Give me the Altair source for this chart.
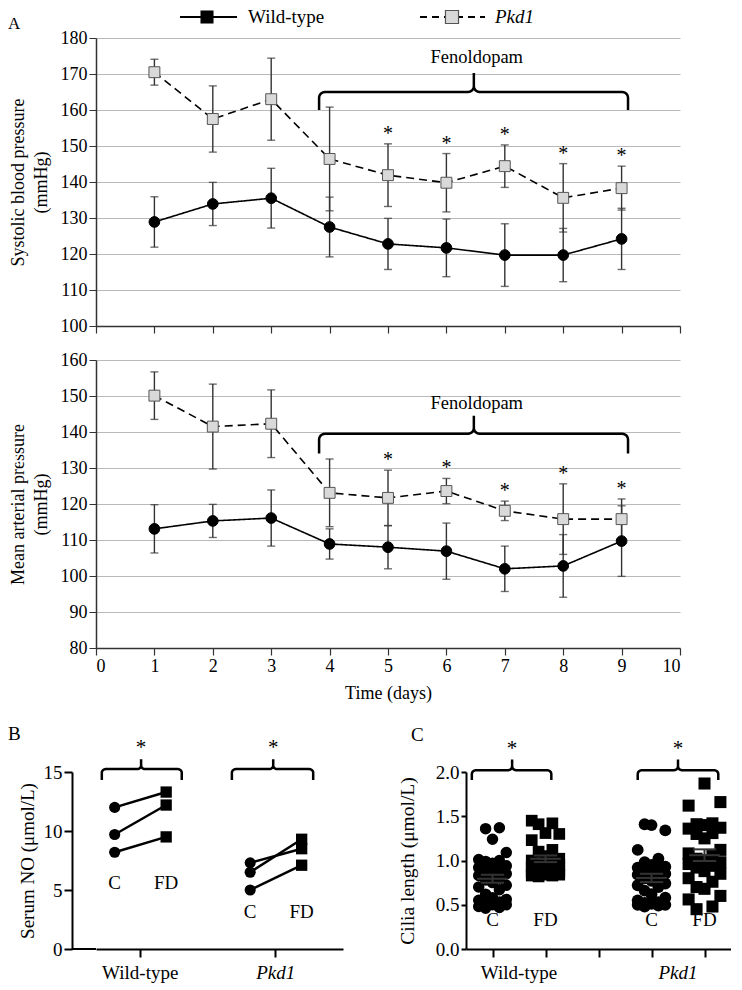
import math
import altair as alt
import pandas as pd

FONT = "Liberation Serif"
SER = ["Wild-type", "Pkd1"]

# ---------------- Panel A data ----------------
days = [1, 2, 3, 4, 5, 6, 7, 8, 9]
sbp_wt = [128.9, 133.9, 135.5, 127.5, 122.8, 121.7, 119.7, 119.7, 124.2]
sbp_wt_err = [7.0, 6.0, 8.3, 8.3, 7.1, 8.0, 8.7, 7.4, 8.5]
sbp_pkd = [170.5, 157.5, 163.0, 146.4, 141.9, 139.8, 144.4, 135.6, 138.3]
sbp_pkd_err = [3.6, 9.2, 11.4, 14.4, 8.7, 8.1, 5.9, 9.5, 6.1]
map_wt = [113.1, 115.3, 116.1, 108.9, 108.0, 106.9, 102.0, 102.8, 109.7]
map_wt_err = [6.7, 4.6, 7.8, 4.2, 6.0, 7.8, 6.3, 8.7, 9.8]
map_pkd = [150.1, 141.5, 142.3, 123.1, 121.7, 123.6, 118.1, 115.8, 115.8]
map_pkd_err = [6.6, 11.8, 9.4, 9.4, 7.7, 3.5, 2.7, 9.8, 5.6]
sig_days = [5, 6, 7, 8, 9]

# ---------------- Panel B data ----------------
no_groups = ["Wild-type", "Wild-type", "Wild-type", "Pkd1", "Pkd1", "Pkd1"]
no_c = [12.0, 9.7, 8.2, 7.3, 6.5, 5.0]
no_fd = [13.3, 12.2, 9.5, 8.5, 9.3, 7.1]

# ---------------- Panel C data ----------------
cil_wt_c = [1.37, 1.36, 1.24, 1.09, 1.01, 1.00, 0.99, 0.97, 0.94, 0.92, 0.90,
            0.88, 0.86, 0.85, 0.83, 0.80, 0.78, 0.75, 0.72, 0.70, 0.67, 0.62,
            0.58, 0.56, 0.55, 0.53, 0.52, 0.50, 0.50, 0.48, 0.47, 0.46]
cil_wt_fd = [1.45, 1.42, 1.41, 1.31, 1.30, 1.23, 1.12, 1.10, 1.05, 1.02, 1.00,
             0.99, 0.97, 0.96, 0.95, 0.93, 0.92, 0.90, 0.89, 0.88, 0.87, 0.86,
             0.85, 0.84, 0.84, 0.83, 0.83, 0.82]
cil_pkd_c = [1.41, 1.40, 1.34, 1.12, 1.02, 0.98, 0.95, 0.93, 0.92, 0.90, 0.88,
             0.86, 0.85, 0.84, 0.82, 0.80, 0.77, 0.74, 0.72, 0.70, 0.66, 0.62,
             0.58, 0.55, 0.53, 0.52, 0.51, 0.50, 0.50, 0.49, 0.48]
cil_pkd_fd = [1.87, 1.66, 1.62, 1.42, 1.41, 1.40, 1.37, 1.36, 1.31, 1.30, 1.25,
              1.12, 1.08, 1.05, 1.02, 1.00, 0.98, 0.96, 0.94, 0.92, 0.88, 0.85,
              0.80, 0.76, 0.70, 0.68, 0.60, 0.56, 0.48, 0.45]

one = pd.DataFrame({"k": [0]})


def brace_df(xname, yname, x0, x1, xm, level, drop, peak, rx, ry, n=6):
    pts = [(x0, level - drop)]
    cx, cy = x0 + rx, level - ry
    for i in range(n + 1):
        t = math.pi - (math.pi / 2) * i / n
        pts.append((cx + rx * math.cos(t), cy + ry * math.sin(t)))
    cx, cy = xm - rx, level + ry
    for i in range(n + 1):
        t = 1.5 * math.pi + (math.pi / 2) * i / n
        pts.append((cx + rx * math.cos(t), cy + ry * math.sin(t)))
    pts.append((xm, level + peak))
    cx, cy = xm + rx, level + ry
    for i in range(n + 1):
        t = math.pi + (math.pi / 2) * i / n
        pts.append((cx + rx * math.cos(t), cy + ry * math.sin(t)))
    cx, cy = x1 - rx, level - ry
    for i in range(n + 1):
        t = math.pi / 2 - (math.pi / 2) * i / n
        pts.append((cx + rx * math.cos(t), cy + ry * math.sin(t)))
    pts.append((x1, level - drop))
    return pd.DataFrame({xname: [p[0] for p in pts], yname: [p[1] for p in pts],
                         "ord": list(range(len(pts)))})


def panel_a(wt, wt_err, pkd, pkd_err, ydom, ytitle, bottom, br, fen_y, top):
    rows = []
    for s, vals, errs in ((SER[0], wt, wt_err), (SER[1], pkd, pkd_err)):
        for d, v, e in zip(days, vals, errs):
            rows.append({"day": d, "series": s, "value": v, "lo": v - e, "hi": v + e})
    df = pd.DataFrame(rows)
    xs = alt.Scale(domain=[0, 10], nice=False, zero=False)
    ys = alt.Scale(domain=ydom, nice=False, zero=False)
    xkw = dict(values=list(range(11)), labels=bottom, grid=False, tickSize=7,
               tickColor="#333", tickWidth=1.2, domainColor="#333", domainWidth=1.5,
               labelFont=FONT, labelFontSize=18, labelColor="black", labelPadding=2)
    if bottom:
        xkw.update(title="Time (days)", titleFont=FONT, titleFontSize=18,
                   titleFontWeight="normal", titleColor="black", titlePadding=9)
    else:
        xkw.update(title=None)
    xaxis = alt.Axis(**xkw)
    yaxis = alt.Axis(values=list(range(ydom[0], ydom[1] + 1, 10)), title=ytitle,
                     titleFont=FONT, titleFontSize=18, titleFontWeight="normal",
                     titleColor="black", titlePadding=10, titleLineHeight=23,
                     labelFont=FONT, labelFontSize=18, labelColor="black", labelPadding=2,
                     tickSize=7, tickColor="#333", domainColor="#333", domainWidth=1.5,
                     grid=True, gridColor="#b9b9b9", gridWidth=1)

    def X(f="day"):
        return alt.X(f"{f}:Q", scale=xs, axis=xaxis)

    def Y(f):
        return alt.Y(f"{f}:Q", scale=ys, axis=yaxis)

    base = alt.Chart(df)
    layers = [
        base.mark_rule(color="#333", strokeWidth=1.4).encode(x=X(), y=Y("lo"), y2="hi:Q"),
        base.mark_tick(color="#333", orient="horizontal", size=8, thickness=1.4).encode(x=X(), y=Y("lo")),
        base.mark_tick(color="#333", orient="horizontal", size=8, thickness=1.4).encode(x=X(), y=Y("hi")),
        base.mark_line(color="black", strokeWidth=1.6).encode(
            x=X(), y=Y("value"), detail="series:N",
            strokeDash=alt.StrokeDash("series:N", scale=alt.Scale(domain=SER, range=[[1, 0], [8, 5]]), legend=None)),
        base.mark_point(filled=True, opacity=1, strokeWidth=1).encode(
            x=X(), y=Y("value"),
            shape=alt.Shape("series:N", scale=alt.Scale(domain=SER, range=["circle", "square"]), legend=None),
            fill=alt.Fill("series:N", scale=alt.Scale(domain=SER, range=["#000000", "#d9d9d9"]), legend=None),
            stroke=alt.Stroke("series:N", scale=alt.Scale(domain=SER, range=["#000000", "#555555"]), legend=None),
            size=alt.Size("series:N", scale=alt.Scale(domain=SER, range=[115, 145]), legend=None)),
        base.transform_filter(alt.datum.series == "Pkd1")
            .transform_filter(alt.FieldOneOfPredicate(field="day", oneOf=sig_days))
            .mark_text(text="*", font=FONT, fontSize=20, baseline="alphabetic", dy=-4)
            .encode(x=X(), y=Y("hi")),
        alt.Chart(brace_df("day", "value", *br)).mark_line(color="black", strokeWidth=2.5).encode(
            x=X(), y=Y("value"), order="ord:Q"),
        alt.Chart(pd.DataFrame({"day": [br[2] + 0.05], "value": [fen_y], "t": ["Fenoldopam"]}))
            .mark_text(font=FONT, fontSize=18.5, baseline="middle").encode(x=X(), y=Y("value"), text="t:N"),
    ]
    if top:
        ly = -21
        layers += [
            alt.Chart(one).mark_rule(color="black", strokeWidth=1.8).encode(
                x=alt.value(84), x2=alt.value(141), y=alt.value(ly)),
            alt.Chart(one).mark_point(shape="square", filled=True, color="black", size=170, opacity=1).encode(
                x=alt.value(111), y=alt.value(ly)),
            alt.Chart(one).mark_text(text="Wild-type", align="left", baseline="middle", font=FONT, fontSize=19).encode(
                x=alt.value(152), y=alt.value(ly)),
            alt.Chart(one).mark_rule(color="black", strokeWidth=1.8, strokeDash=[7, 5]).encode(
                x=alt.value(324), x2=alt.value(389), y=alt.value(ly)),
            alt.Chart(one).mark_point(shape="square", filled=True, fill="#d9d9d9", stroke="#555555",
                                      strokeWidth=1.2, size=170, opacity=1).encode(
                x=alt.value(356), y=alt.value(ly)),
            alt.Chart(one).mark_text(text="Pkd1", align="left", baseline="middle", font=FONT, fontSize=19,
                                     fontStyle="italic").encode(x=alt.value(399), y=alt.value(ly)),
            alt.Chart(one).mark_text(text="A", align="left", baseline="middle", font=FONT, fontSize=17).encode(
                x=alt.value(-88), y=alt.value(-14)),
        ]
    else:
        layers.append(alt.Chart(one).mark_text(text="A", align="left", baseline="middle", font=FONT,
                                               fontSize=17, color="white").encode(
            x=alt.value(-88), y=alt.value(100)))
    return alt.layer(*layers).properties(width=584, height=288)


row1 = panel_a(sbp_wt, sbp_wt_err, sbp_pkd, sbp_pkd_err, [100, 180],
               ["Systolic blood pressure", "(mmHg)"], False,
               (3.82, 9.11, 6.47, 165.0, 5.0, 5.3, 0.1, 1.6), 174.7, True)
row2 = panel_a(map_wt, map_wt_err, map_pkd, map_pkd_err, [80, 160],
               ["Mean arterial pressure", "(mmHg)"], True,
               (3.82, 9.11, 6.47, 139.5, 5.5, 5.0, 0.1, 1.6), 148.0, False)

# ---------------- Panel B ----------------
# The concat layout lines this panel's plot origin up with panel A's, so the
# y axis is pushed further left with an axis offset.
B_AXIS_OFFSET = 24
B_W = 247
brows = []
for i, (g, c, f) in enumerate(zip(no_groups, no_c, no_fd)):
    brows.append({"pair": i, "group": g, "cond": "C", "value": c})
    brows.append({"pair": i, "group": g, "cond": "FD", "value": f})
bdf = pd.DataFrame(brows)
bxs = alt.Scale(domain=[4 - 4 * B_W / (B_W + B_AXIS_OFFSET), 4], nice=False, zero=False)
bys = alt.Scale(domain=[0, 15], nice=False)
bxaxis = alt.Axis(values=[1, 3], labelExpr="datum.value == 1 ? 'Wild-type' : 'Pkd1'",
                  labelFontStyle={"condition": {"test": "datum.value == 3", "value": "italic"}, "value": "normal"},
                  title=None, grid=False, tickSize=8, tickWidth=2, tickColor="black",
                  domainColor="black", domainWidth=2, labelFont=FONT, labelFontSize=19,
                  labelColor="black", labelPadding=6)
byaxis = alt.Axis(values=[0, 5, 10, 15], title="Serum NO (μmol/L)", titleFont=FONT, titleFontSize=19,
                  titleFontWeight="normal", titleColor="black", titlePadding=6, grid=False,
                  offset=B_AXIS_OFFSET,
                  tickSize=8, tickWidth=2, tickColor="black", domainColor="black", domainWidth=2,
                  labelFont=FONT, labelFontSize=19, labelColor="black", labelPadding=2)


def BX(f):
    return alt.X(f"{f}:Q", scale=bxs, axis=bxaxis)


def BY(f):
    return alt.Y(f"{f}:Q", scale=bys, axis=byaxis)


BPOS = "(datum.group == 'Wild-type' ? 1 : 3) + (datum.cond == 'C' ? -0.37 : 0.39)"
bbase = alt.Chart(bdf).transform_calculate(xpos=BPOS)
b_labels = pd.DataFrame({"group": ["Wild-type", "Wild-type", "Pkd1", "Pkd1"],
                         "cond": ["C", "FD", "C", "FD"], "value": [5.6, 5.6, 3.1, 3.1]})
b_star = pd.DataFrame({"xpos": [1.02, 2.97], "value": [16.08, 16.08]})
panel_b = alt.layer(
    alt.Chart(one).mark_rule(color="black", strokeWidth=2).encode(
        x=alt.value(-B_AXIS_OFFSET), x2=alt.value(0), y=alt.value(177)),
    bbase.mark_line(color="black", strokeWidth=2.5).encode(x=BX("xpos"), y=BY("value"), detail="pair:N"),
    bbase.mark_point(filled=True, opacity=1, color="black").encode(
        x=BX("xpos"), y=BY("value"),
        shape=alt.Shape("cond:N", scale=alt.Scale(domain=["C", "FD"], range=["circle", "square"]), legend=None),
        size=alt.Size("cond:N", scale=alt.Scale(domain=["C", "FD"], range=[60, 65]), legend=None)),
    alt.Chart(b_labels).transform_calculate(xpos=BPOS)
        .mark_text(font=FONT, fontSize=19, baseline="middle").encode(x=BX("xpos"), y=BY("value"), text="cond:N"),
    alt.Chart(brace_df("xpos", "value", 0.44, 1.62, 1.02, 15.25, 0.92, 0.83, 0.06, 0.3)).mark_line(
        color="black", strokeWidth=2.5).encode(x=BX("xpos"), y=BY("value"), order="ord:Q"),
    alt.Chart(brace_df("xpos", "value", 2.36, 3.56, 2.97, 15.25, 0.92, 0.83, 0.06, 0.3)).mark_line(
        color="black", strokeWidth=2.5).encode(x=BX("xpos"), y=BY("value"), order="ord:Q"),
    alt.Chart(b_star).mark_text(text="*", font=FONT, fontSize=21, baseline="alphabetic", dy=-5).encode(
        x=BX("xpos"), y=BY("value")),
    alt.Chart(one).mark_text(text="B", align="left", baseline="middle", font=FONT, fontSize=19).encode(
        x=alt.value(-88), y=alt.value(-38)),
).properties(width=B_W, height=177)

# ---------------- Panel C ----------------
cgroups = ["WT-C", "WT-FD", "Pkd1-C", "Pkd1-FD"]
crows = []
for g, vals in zip(cgroups, [cil_wt_c, cil_wt_fd, cil_pkd_c, cil_pkd_fd]):
    for v in vals:
        crows.append({"grp": g, "value": v})
cdf = pd.DataFrame(crows)
gx_expr = ("datum.grp == 'WT-C' ? 1 : datum.grp == 'WT-FD' ? 2 : "
           "datum.grp == 'Pkd1-C' ? 4 : 5")
cxs = alt.Scale(domain=[0.5, 5.5], nice=False, zero=False)
cys = alt.Scale(domain=[0, 2], nice=False)
cxaxis = alt.Axis(values=[1, 2, 3, 4, 5], labels=False, title=None, grid=False, tickSize=8, tickWidth=2,
                  tickColor="black", domainColor="black", domainWidth=2)
cyaxis = alt.Axis(values=[0, 0.5, 1.0, 1.5, 2.0], format=".1f", title="Cilia length (μmol/L)",
                  titleFont=FONT, titleFontSize=19.5, titleFontWeight="normal", titleColor="black",
                  titlePadding=18, grid=False, tickSize=5, tickWidth=2, tickColor="black",
                  domainColor="black", domainWidth=2, labelFont=FONT, labelFontSize=19,
                  labelColor="black", labelPadding=2)


def CX(f):
    return alt.X(f"{f}:Q", scale=cxs, axis=cxaxis)


def CY(f):
    return alt.Y(f"{f}:Q", scale=cys, axis=cyaxis)


cpoints = alt.Chart(cdf).transform_window(
    rn="row_number()", groupby=["grp"], sort=[alt.SortField("value", order="ascending")]
).transform_calculate(
    gx=gx_expr, col="datum.rn % 5"
).transform_calculate(
    off="datum.col == 0 ? 0 : datum.col == 1 ? -1 : datum.col == 2 ? 1 : datum.col == 3 ? -2 : 2"
).transform_calculate(
    xpos="datum.gx + datum.off * (datum.grp == 'Pkd1-FD' ? 0.15 : 0.13)"
).mark_point(filled=True, opacity=1, color="black").encode(
    x=CX("xpos"), y=CY("value"),
    shape=alt.Shape("grp:N", scale=alt.Scale(domain=cgroups, range=["circle", "square", "triangle-down", "diamond"]),
                    legend=None),
    size=alt.Size("grp:N", scale=alt.Scale(domain=cgroups, range=[55, 50, 75, 70]), legend=None))

cstats = alt.Chart(cdf).transform_calculate(gx=gx_expr).transform_aggregate(
    m="mean(value)", se="stderr(value)", groupby=["grp", "gx"]
).transform_calculate(
    lo="datum.m - datum.se", hi="datum.m + datum.se",
    xl="datum.gx - 0.29", xr="datum.gx + 0.29", cl="datum.gx - 0.22", cr="datum.gx + 0.22")

c_labels = pd.DataFrame({"grp": cgroups, "t": ["C", "FD", "C", "FD"], "value": [0.33] * 4})
c_star = pd.DataFrame({"xpos": [1.37, 4.5], "value": [2.14, 2.14]})

panel_c = alt.layer(
    cpoints,
    cstats.mark_rule(color="#333", strokeWidth=2).encode(x=CX("xl"), x2="xr:Q", y=CY("m")),
    cstats.mark_rule(color="#333", strokeWidth=2).encode(x=CX("gx"), y=CY("lo"), y2="hi:Q"),
    cstats.mark_rule(color="#333", strokeWidth=2).encode(x=CX("cl"), x2="cr:Q", y=CY("lo")),
    cstats.mark_rule(color="#333", strokeWidth=2).encode(x=CX("cl"), x2="cr:Q", y=CY("hi")),
    alt.Chart(c_labels).transform_calculate(gx=gx_expr).mark_text(font=FONT, fontSize=19, baseline="middle").encode(
        x=CX("gx"), y=CY("value"), text="t:N"),
    alt.Chart(pd.DataFrame({"xpos": [1.5], "t": ["Wild-type"]})).mark_text(
        font=FONT, fontSize=19, baseline="middle").encode(x=CX("xpos"), y=alt.value(201), text="t:N"),
    alt.Chart(pd.DataFrame({"xpos": [4.5], "t": ["Pkd1"]})).mark_text(
        font=FONT, fontSize=19, baseline="middle", fontStyle="italic").encode(
        x=CX("xpos"), y=alt.value(201), text="t:N"),
    alt.Chart(brace_df("xpos", "value", 0.61, 2.11, 1.37, 2.02, 0.11, 0.12, 0.075, 0.045)).mark_line(
        color="black", strokeWidth=2.5).encode(x=CX("xpos"), y=CY("value"), order="ord:Q"),
    alt.Chart(brace_df("xpos", "value", 3.74, 5.26, 4.5, 2.02, 0.11, 0.12, 0.075, 0.045)).mark_line(
        color="black", strokeWidth=2.5).encode(x=CX("xpos"), y=CY("value"), order="ord:Q"),
    alt.Chart(c_star).mark_text(text="*", font=FONT, fontSize=21, baseline="alphabetic", dy=-5).encode(
        x=CX("xpos"), y=CY("value")),
    alt.Chart(one).mark_text(text="C", align="left", baseline="middle", font=FONT, fontSize=19).encode(
        x=alt.value(-55), y=alt.value(-37)),
).properties(width=265, height=177)

row3 = alt.hconcat(panel_b, panel_c, spacing=54)
top = alt.vconcat(row1, row2, spacing=16)
chart = alt.vconcat(top, row3, spacing=23).properties(
    padding=0, background="white"
).configure_view(stroke=None)

chart.save("out.html", embed_options={"renderer": "svg", "actions": False})
